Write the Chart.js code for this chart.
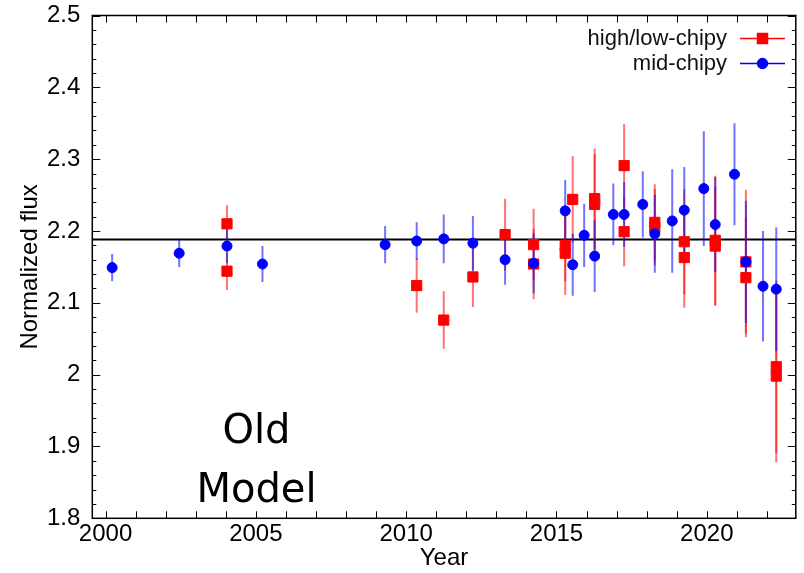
<!DOCTYPE html>
<html>
<head>
<meta charset="utf-8">
<script src="https://cdn.jsdelivr.net/npm/chart.js@4/dist/chart.umd.min.js"></script>
<style>
  html, body { margin: 0; padding: 0; background: #fff; }
  #wrap { width: 804px; height: 573px; }
</style>
</head>
<body>
<div id="wrap"><canvas id="fluxChart" width="804" height="573"></canvas></div>
<script>
// mid-chipy points (blue circles)
const midYears = [2000.22, 2002.45, 2004.04, 2005.22, 2009.30, 2010.35, 2011.25, 2012.22, 2013.29, 2014.24,
  2015.29, 2015.54, 2015.92, 2016.27, 2016.89, 2017.25, 2017.87, 2018.27, 2018.85, 2019.25,
  2019.90, 2020.28, 2020.92, 2021.30, 2021.87, 2022.31];
const midFlux = [2.149, 2.169, 2.179, 2.154, 2.181, 2.186, 2.189, 2.183, 2.160, 2.155,
  2.228, 2.153, 2.194, 2.165, 2.223, 2.223, 2.237, 2.196, 2.214, 2.229,
  2.259, 2.209, 2.279, 2.157, 2.123, 2.119];
const midErr = [0.019, 0.019, 0.024, 0.025, 0.026, 0.026, 0.034, 0.038, 0.035, 0.042,
  0.043, 0.043, 0.044, 0.050, 0.043, 0.045, 0.046, 0.054, 0.072, 0.060,
  0.080, 0.066, 0.071, 0.085, 0.077, 0.086];

// high/low-chipy points (red squares)
const hlYears = [2004.04, 2004.04, 2010.35, 2011.25, 2012.22, 2013.29, 2014.24, 2014.24, 2015.29, 2015.29,
  2015.54, 2016.27, 2016.27, 2017.25, 2017.25, 2018.27, 2018.27, 2019.25, 2019.25, 2020.28,
  2020.28, 2021.30, 2021.30, 2022.31, 2022.31];
const hlFlux = [2.210, 2.144, 2.124, 2.076, 2.136, 2.195, 2.181, 2.154, 2.180, 2.169,
  2.244, 2.245, 2.237, 2.291, 2.199, 2.212, 2.205, 2.185, 2.163, 2.187,
  2.179, 2.157, 2.135, 2.011, 1.998];
const hlErr = [0.026, 0.026, 0.038, 0.040, 0.042, 0.050, 0.050, 0.049, 0.050, 0.058,
  0.060, 0.070, 0.070, 0.058, 0.048, 0.053, 0.053, 0.073, 0.070, 0.090,
  0.083, 0.100, 0.083, 0.120, 0.120];

// reference level (horizontal line)
const refLevel = 2.188;

// axes
const xTickValues = [2000, 2005, 2010, 2015, 2020];
const xTickLabels = ['2000', '2005', '2010', '2015', '2020'];
const yTickValues = [1.8, 1.9, 2.0, 2.1, 2.2, 2.3, 2.4, 2.5];
const yTickLabels = ['1.8', '1.9', '2', '2.1', '2.2', '2.3', '2.4', '2.5'];

const RED = '#ff0000';
const BLUE = '#0000ff';

function toPoints(xs, ys) {
  return xs.map((x, i) => ({ x, y: ys[i] }));
}

// draws reference line + error bars under the markers
const errorBarPlugin = {
  id: 'errorBars',
  beforeDatasetsDraw(chart) {
    const { ctx, chartArea, scales } = chart;
    const xs = scales.x, ys = scales.y;
    ctx.save();
    ctx.beginPath();
    ctx.rect(chartArea.left, chartArea.top, chartArea.right - chartArea.left, chartArea.bottom - chartArea.top);
    ctx.clip();

    // reference line
    const yRef = ys.getPixelForValue(refLevel);
    ctx.strokeStyle = '#000';
    ctx.lineWidth = 2;
    ctx.beginPath();
    ctx.moveTo(chartArea.left, yRef);
    ctx.lineTo(chartArea.right, yRef);
    ctx.stroke();

    chart.data.datasets.forEach((ds) => {
      if (!ds.errors) return;
      ctx.strokeStyle = ds.errorColor;
      ctx.lineWidth = 2;
      ds.data.forEach((p, i) => {
        const px = xs.getPixelForValue(p.x);
        ctx.beginPath();
        ctx.moveTo(px, ys.getPixelForValue(p.y - ds.errors[i]));
        ctx.lineTo(px, ys.getPixelForValue(p.y + ds.errors[i]));
        ctx.stroke();
      });
    });
    ctx.restore();
  }
};

// frame with inward ticks, legend and annotation
const decorPlugin = {
  id: 'decor',
  afterDraw(chart) {
    const { ctx, chartArea: a, scales } = chart;
    const xs = scales.x, ys = scales.y;
    ctx.save();
    ctx.strokeStyle = '#000';
    ctx.lineWidth = 1;
    // x ticks every year
    for (let yr = 2000; yr <= 2022; yr++) {
      const px = Math.round(xs.getPixelForValue(yr)) + 0.5;
      ctx.beginPath();
      ctx.moveTo(px, a.bottom); ctx.lineTo(px, a.bottom - 7);
      ctx.moveTo(px, a.top); ctx.lineTo(px, a.top + 7);
      ctx.stroke();
    }
    // y ticks every 0.02
    for (let k = 0; k <= 35; k++) {
      const v = 1.8 + k * 0.02;
      const py = Math.round(ys.getPixelForValue(v)) + 0.5;
      const len = k % 5 === 0 ? 8 : 4;
      ctx.beginPath();
      ctx.moveTo(a.left, py); ctx.lineTo(a.left + len, py);
      ctx.moveTo(a.right, py); ctx.lineTo(a.right - len, py);
      ctx.stroke();
    }
    // frame
    ctx.lineWidth = 1.5;
    ctx.strokeRect(a.left, a.top, a.right - a.left, a.bottom - a.top);

    // legend (text left of symbol)
    ctx.font = '22px "Liberation Sans", Arial, sans-serif';
    ctx.textAlign = 'right';
    ctx.textBaseline = 'middle';
    ctx.fillStyle = '#111';
    chart.data.datasets.forEach((ds, i) => {
      const ly = 38.5 + i * 25;
      ctx.fillText(ds.label, 727, ly);
      ctx.strokeStyle = ds.pointBackgroundColor;
      ctx.lineWidth = 1.3;
      ctx.beginPath();
      ctx.moveTo(740, ly); ctx.lineTo(785, ly);
      ctx.stroke();
      ctx.fillStyle = ds.pointBackgroundColor;
      Chart.helpers.drawPoint(ctx, {
        pointStyle: ds.pointStyle, radius: ds.pointRadius, borderWidth: 1, rotation: 0
      }, 762.5, ly);
      ctx.fill();
      ctx.fillStyle = '#111';
    });

    // "Old Model" annotation
    ctx.font = '40px "DejaVu Sans", sans-serif';
    ctx.textAlign = 'center';
    ctx.textBaseline = 'alphabetic';
    ctx.fillStyle = '#000';
    ctx.fillText('Old', 256.5, 443);
    ctx.fillText('Model', 256.5, 502);
    ctx.restore();
  }
};

const ctx = document.getElementById('fluxChart').getContext('2d');
const fluxChart = new Chart(ctx, {
  type: 'scatter',
  data: {
    datasets: [
      {
        label: 'high/low-chipy',
        data: toPoints(hlYears, hlFlux),
        errors: hlErr,
        errorColor: 'rgba(255,0,0,0.55)',
        pointStyle: 'rect',
        pointRadius: 7.2,
        pointBackgroundColor: RED,
        pointBorderColor: RED,
        pointBorderWidth: 1,
        order: 2
      },
      {
        label: 'mid-chipy',
        data: toPoints(midYears, midFlux),
        errors: midErr,
        errorColor: 'rgba(0,0,255,0.55)',
        pointStyle: 'circle',
        pointRadius: 5,
        pointBackgroundColor: BLUE,
        pointBorderColor: BLUE,
        pointBorderWidth: 1,
        order: 1
      }
    ]
  },
  options: {
    responsive: false,
    animation: false,
    devicePixelRatio: 1,
    layout: { padding: { top: 15.5, right: 1, left: 0, bottom: 0 } },
    plugins: {
      legend: { display: false },
      tooltip: { enabled: false }
    },
    scales: {
      x: {
        type: 'linear',
        min: 1999.56,
        max: 2022.96,
        grid: { display: false, drawTicks: false, tickLength: 0 },
        border: { display: false },
        afterBuildTicks: (scale) => { scale.ticks = xTickValues.map(v => ({ value: v })); },
        afterFit: (scale) => {
          scale.height = 54.7;
          scale.paddingLeft = 0;
          scale.paddingRight = 0;
        },
        ticks: {
          autoSkip: false,
          maxRotation: 0,
          padding: 2,
          color: '#000',
          font: { family: '"Liberation Sans", Arial, sans-serif', size: 24 },
          callback: (v, i) => xTickLabels[i]
        },
        title: {
          display: true,
          text: 'Year',
          color: '#000',
          padding: { top: 1, bottom: 0 },
          font: { family: '"Liberation Sans", Arial, sans-serif', size: 24 }
        }
      },
      y: {
        type: 'linear',
        min: 1.8,
        max: 2.5,
        grid: { display: false, drawTicks: false, tickLength: 0 },
        border: { display: false },
        afterBuildTicks: (scale) => { scale.ticks = yTickValues.map(v => ({ value: v })); },
        afterFit: (scale) => {
          scale.width = 92.3;
          scale.paddingTop = 0;
          scale.paddingBottom = 0;
        },
        ticks: {
          autoSkip: false,
          padding: 12,
          color: '#000',
          font: { family: '"Liberation Sans", Arial, sans-serif', size: 24 },
          callback: (v, i) => yTickLabels[i]
        },
        title: {
          display: true,
          text: 'Normalized flux',
          color: '#000',
          padding: { top: 16, bottom: 0 },
          font: { family: '"Liberation Sans", Arial, sans-serif', size: 24 }
        }
      }
    }
  },
  plugins: [errorBarPlugin, decorPlugin]
});
</script>
</body>
</html>
